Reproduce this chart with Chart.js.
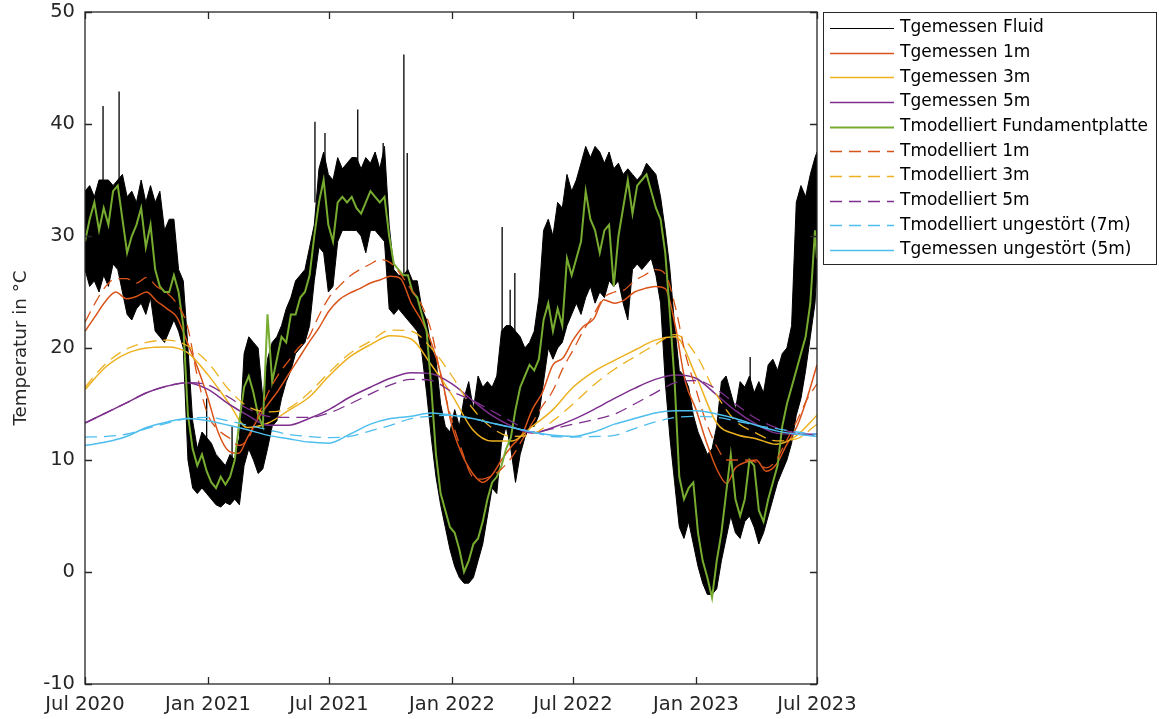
<!DOCTYPE html>
<html lang="de">
<head>
    <meta charset="UTF-8">
    <title>Temperaturverlauf</title>
    <script src="https://cdn.jsdelivr.net/npm/chart.js"></script>
    <style>
        body {
            margin: 0;
            background: #fff;
        }
        .wrap {
            position: relative;
            width: 1159px;
            height: 719px;
        }
    </style>
</head>
<body>
    <div class="wrap"><canvas id="chart"></canvas></div>

    <script>
        // x positions are days since 1 Jul 2020
        const tickDays = [0, 184, 365, 549, 730, 914, 1095];
        const tickLabels = ['Jul 2020', 'Jan 2021', 'Jul 2021', 'Jan 2022', 'Jul 2022', 'Jan 2023', 'Jul 2023'];

        const monthDays = [0, 31, 62, 92, 123, 153, 184, 215, 243, 274, 304, 335, 365, 396, 427, 457, 488, 518,
            549, 580, 608, 639, 669, 700, 730, 761, 792, 822, 853, 883, 914, 945, 973, 1004, 1034, 1065, 1095];
        const halfMonthDays = [0, 15, 31, 46, 62, 77, 92, 107, 123, 138, 153, 168, 184, 199, 215, 230, 243, 258,
            274, 289, 304, 319, 335, 350, 365, 380, 396, 411, 427, 442, 457, 472, 488, 503, 518, 533, 549, 564,
            580, 595, 608, 623, 639, 654, 669, 684, 700, 715, 730, 745, 761, 776, 792, 807, 822, 837, 853, 868,
            883, 898, 914, 929, 945, 960, 973, 988, 1004, 1019, 1034, 1049, 1065, 1080, 1095];
        const weekDays = Array.from({ length: 158 }, (_, i) => Math.min(i * 7, 1095));

        // fluid: upper and lower edge of the daily scatter, one value per week
        const fluidHi = [
            34.0, 34.5, 33.5, 35.0, 35.0, 35.0, 34.5, 35.0, 35.5, 33.5,
            34.0, 33.0, 35.0, 33.0, 34.5, 33.0, 34.0, 30.5, 31.5, 31.5,
            27.0, 26.0, 20.0, 13.5, 11.0, 12.5, 12.0, 11.5, 10.5, 10.0,
            9.5, 10.5, 10.0, 12.0, 19.5, 21.0, 20.5, 20.0, 15.5, 19.0,
            20.5, 21.0, 22.0, 23.5, 24.5, 26.0, 26.5, 27.0, 29.0, 31.0,
            36.0, 37.5, 35.5, 35.0, 37.0, 36.0, 36.5, 37.0, 37.0, 36.0,
            37.0, 36.5, 37.5, 36.0, 38.0, 31.0, 27.0, 26.5, 26.5, 27.0,
            26.0, 26.0, 23.5, 22.5, 20.0, 19.0, 15.0, 13.0, 12.5, 14.5,
            13.0, 15.5, 17.0, 14.5, 17.5, 16.5, 17.0, 16.5, 17.5, 21.5,
            22.0, 22.0, 21.5, 21.0, 20.0, 20.5, 21.5, 24.5, 30.5, 31.5,
            30.0, 33.0, 32.5, 35.5, 34.0, 35.0, 36.5, 38.0, 37.0, 38.0,
            37.5, 36.5, 37.5, 36.0, 36.5, 35.5, 36.0, 35.5, 35.0, 35.5,
            36.5, 36.0, 35.5, 33.5, 30.5, 27.0, 22.0, 18.0, 17.5, 16.5,
            14.0, 12.5, 11.5, 10.5, 11.0, 13.0, 17.0, 17.5, 16.0, 14.5,
            17.0, 16.5, 17.5, 16.0, 17.0, 16.0, 18.5, 19.0, 18.0, 19.5,
            20.0, 22.0, 33.0, 34.5, 33.5, 35.5, 37.0, 37.5
        ];
        const fluidLo = [
            27.0, 25.5, 26.0, 25.0, 26.5, 25.5, 27.5, 27.0, 25.0, 23.0,
            22.5, 23.5, 24.0, 23.0, 24.5, 21.5, 21.0, 20.5, 21.5, 22.5,
            21.5, 20.0, 10.0, 7.5, 7.0, 7.5, 7.0, 6.5, 6.0, 5.8,
            6.2, 6.0, 6.5, 6.0, 9.5, 11.0, 10.0, 8.8, 9.2, 11.0,
            13.0, 13.5, 15.5, 17.0, 18.0, 19.5, 20.0, 20.5, 22.0, 26.0,
            29.0, 28.5, 25.0, 25.5, 29.5, 30.5, 30.5, 30.5, 30.5, 30.0,
            28.5, 30.5, 30.5, 30.0, 29.5, 23.5, 23.0, 23.5, 23.0, 22.5,
            22.0, 21.5, 19.5, 16.0, 12.0, 8.5, 6.0, 4.0, 2.0, 0.5,
            -0.5, -1.0, -1.0, -0.5, 1.0, 2.5, 5.0, 7.5, 7.0, 11.5,
            13.0, 11.0, 8.0, 10.5, 12.0, 13.0, 13.0, 14.0, 17.0, 20.0,
            19.0, 20.0, 20.5, 22.0, 23.0, 24.0, 23.0, 24.5, 25.5, 24.0,
            25.0, 24.5, 26.0, 25.5, 26.0, 24.0, 22.5, 27.0, 27.5, 27.0,
            27.5, 28.0, 26.5, 24.0, 17.0, 12.0, 8.0, 4.0, 3.0, 4.5,
            2.5, 0.5, -1.0, -2.0, -2.0, -1.5, 1.0, 3.0, 5.0, 3.5,
            3.0, 4.5, 5.0, 4.0, 2.5, 3.5, 5.0, 6.5, 8.0, 9.0,
            10.0, 11.5, 14.0, 15.5, 18.0, 21.0, 24.0, 27.0
        ];
        // single-day peaks of the fluid temperature
        const spikeDays = [27, 51, 182, 220, 344, 359, 408, 446, 477, 482, 624, 636, 643, 995];
        const spikeBases = [34.0, 35.0, 11.0, 9.5, 33.0, 35.0, 36.0, 36.0, 25.0, 25.0, 20.0, 20.0, 20.0, 16.0];
        const spikeTops = [41.6, 42.9, 15.5, 13.0, 40.2, 39.2, 41.3, 38.3, 46.2, 37.4, 30.8, 25.2, 26.7, 19.2];

        const modFundament = [
            29.5, 31.5, 33.0, 30.5, 32.5, 31.0, 34.0, 34.5, 31.5, 28.5,
            30.0, 31.0, 32.5, 29.0, 31.0, 27.0, 25.5, 25.0, 25.0, 26.5,
            25.0, 22.0, 14.0, 11.0, 9.5, 10.5, 9.0, 8.0, 7.5, 8.5,
            7.8, 8.5, 10.0, 13.5, 16.5, 17.5, 16.0, 14.0, 13.0, 23.0,
            17.0, 19.0, 21.0, 20.5, 23.0, 23.0, 24.5, 25.0, 26.5, 30.0,
            33.0, 35.0, 31.0, 29.5, 33.0, 33.5, 33.0, 33.5, 32.5, 32.0,
            33.0, 34.0, 33.5, 33.0, 33.5, 30.0, 27.5, 27.0, 26.5, 26.5,
            25.0, 24.5, 23.0, 21.5, 16.5, 10.5, 7.0, 5.5, 4.0, 3.5,
            2.0, 0.0, 1.0, 2.5, 3.0, 4.5, 6.5, 8.0, 8.5, 9.5,
            11.0, 12.0, 14.5, 16.5, 17.5, 18.5, 18.0, 19.0, 22.5, 24.0,
            21.5, 23.5, 22.0, 28.0, 26.5, 28.0, 29.5, 34.0, 31.5, 30.5,
            28.5, 30.5, 31.0, 25.5, 30.0, 32.5, 35.0, 32.0, 34.5, 35.0,
            35.5, 34.0, 32.5, 31.5, 28.5, 23.0, 17.0, 8.5, 6.5, 7.5,
            8.0, 3.5, 1.0, -0.5, -2.3, 1.0, 3.5, 7.0, 10.5, 6.5,
            5.0, 6.5, 10.0, 9.5, 5.5, 4.5, 6.5, 8.0, 9.5, 13.0,
            15.0, 16.5, 18.0, 19.5, 21.0, 24.0, 30.5, 28.0
        ];

        // half-month values
        const mess1m = [21.5, 22.8, 24.2, 25.0, 24.4, 24.6, 25.0, 24.2, 23.5, 22.7, 20.5, 18.3,
            15.5, 12.5, 10.8, 10.6, 12.0, 13.6, 15.0, 16.2, 17.6, 19.0, 20.5, 21.8,
            23.3, 24.3, 24.9, 25.3, 25.8, 26.1, 26.4, 26.2, 24.0, 22.5, 20.5, 17.5,
            13.0, 10.5, 8.8, 8.0, 8.6, 10.0, 11.3, 12.3, 14.5, 16.0, 18.5, 19.1,
            20.7, 21.9, 22.6, 24.3, 24.0, 24.3, 25.0, 25.3, 25.5, 25.3, 22.0, 17.0,
            14.5, 11.7, 9.2, 7.9, 9.3, 9.8, 10.0, 9.0, 9.6, 11.3, 13.0, 15.5, 18.5];
        const mod1m = [22.3, 24.0, 25.5, 26.2, 26.2, 25.8, 26.3, 25.5, 24.9, 23.9, 22.0, 17.5,
            14.0, 12.7, 12.0, 11.3, 11.8, 13.8, 16.0, 17.6, 18.8, 20.0, 21.0, 22.9,
            24.5, 25.5, 26.4, 27.0, 27.5, 27.9, 27.6, 26.6, 25.2, 23.9, 21.5, 17.3,
            13.5, 10.8, 8.5, 8.3, 8.6, 9.2, 10.3, 11.8, 13.3, 14.8, 16.2, 18.2,
            19.8, 21.5, 23.0, 24.5, 25.0, 25.2, 26.0, 26.5, 27.0, 26.6, 23.7, 19.5,
            16.3, 13.4, 11.2, 10.0, 10.0, 10.0, 9.8, 9.3, 10.0, 11.7, 13.5, 15.4, 16.8];

        // monthly values
        const mess3m = [16.3, 18.3, 19.5, 20.0, 20.1, 19.6, 17.6, 15.1, 12.9, 13.3, 14.4, 15.6,
            17.5, 19.2, 20.3, 21.1, 20.8, 18.5, 15.8, 12.7, 11.7, 11.7, 13.0, 14.5,
            16.5, 17.9, 18.9, 19.8, 20.7, 21.0, 17.5, 13.3, 12.3, 11.9, 11.4, 12.2, 14.0];
        const mod3m = [16.5, 18.6, 19.9, 20.5, 20.7, 20.2, 18.7, 16.3, 14.8, 14.3, 14.6, 16.0,
            17.8, 19.5, 20.6, 21.6, 21.5, 20.0, 17.5, 14.6, 12.9, 12.1, 12.3, 13.5,
            15.0, 16.7, 18.1, 19.2, 20.3, 21.2, 19.4, 15.8, 13.5, 12.4, 11.7, 11.9, 13.2];
        const mess5m = [13.3, 14.2, 15.1, 16.0, 16.6, 16.9, 16.3, 15.0, 14.0, 13.1, 13.1, 13.7,
            14.5, 15.6, 16.5, 17.3, 17.8, 17.7, 16.8, 15.3, 14.0, 13.0, 12.4, 12.9,
            13.6, 14.5, 15.5, 16.4, 17.2, 17.6, 17.3, 15.8, 14.4, 13.2, 12.4, 12.3, 12.3];
        const mod5m = [13.3, 14.2, 15.1, 16.0, 16.6, 16.9, 16.7, 15.6, 14.6, 13.9, 13.8, 13.8,
            14.2, 15.0, 15.9, 16.7, 17.2, 17.1, 16.1, 15.3, 14.4, 13.4, 12.5, 12.8,
            13.2, 13.6, 14.1, 15.0, 16.0, 16.9, 17.1, 16.3, 15.0, 13.7, 12.9, 12.4, 12.2];
        const mod7mUngestoert = [12.05, 12.1, 12.3, 12.8, 13.3, 13.7, 13.8, 13.5, 13.1, 12.7, 12.3, 12.1,
            12.0, 12.1, 12.6, 13.1, 13.7, 13.9, 14.0, 13.7, 13.3, 12.9, 12.5, 12.1,
            12.05, 12.1, 12.2, 12.8, 13.4, 13.8, 13.9, 13.8, 13.5, 13.1, 12.8, 12.5, 12.3];
        const mess5mUngestoert = [11.3, 11.6, 12.1, 12.9, 13.4, 13.7, 13.5, 13.1, 12.7, 12.2, 11.9, 11.6,
            11.5, 12.3, 13.2, 13.7, 13.9, 14.2, 14.0, 13.7, 13.3, 12.9, 12.5, 12.2,
            12.1, 12.5, 13.2, 13.7, 14.2, 14.4, 14.4, 14.1, 13.7, 13.1, 12.6, 12.3, 12.1];

        const toPts = (days, vals) => days.map((d, i) => ({ x: d, y: vals[i] }));

        const spikePts = [];
        spikeDays.forEach((d, i) => {
            spikePts.push({ x: d, y: spikeBases[i] }, { x: d, y: spikeTops[i] }, { x: d, y: null });
        });

        const DASH = [12, 7];

        function series(label, days, vals, color, width, dash, order, smooth) {
            return {
                label: label,
                data: toPts(days, vals),
                borderColor: color,
                borderWidth: width,
                borderDash: dash || [],
                pointRadius: 0,
                fill: false,
                order: order,
                tension: 0,
                cubicInterpolationMode: smooth ? 'monotone' : 'default'
            };
        }

        const datasets = [
            series('Tgemessen Fluid', weekDays, fluidHi, '#000000', 1, null, 30, false),
            Object.assign(series('', weekDays, fluidLo, '#000000', 1, null, 29, false),
                { fill: '-1', backgroundColor: '#000000' }),
            { label: '', data: spikePts, borderColor: '#000000', borderWidth: 1.3, pointRadius: 0, order: 28, spanGaps: false },
            series('Tgemessen 1m', halfMonthDays, mess1m, '#D95319', 1.5, null, 20, true),
            series('Tgemessen 3m', monthDays, mess3m, '#EDB120', 1.5, null, 19, true),
            series('Tgemessen 5m', monthDays, mess5m, '#7E2F8E', 1.5, null, 18, true),
            series('Tmodelliert Fundamentplatte', weekDays, modFundament, '#77AC30', 2, null, 17, false),
            series('Tmodelliert 1m', halfMonthDays, mod1m, '#D95319', 1.3, DASH, 16, true),
            series('Tmodelliert 3m', monthDays, mod3m, '#EDB120', 1.3, DASH, 15, true),
            series('Tmodelliert 5m', monthDays, mod5m, '#7E2F8E', 1.3, DASH, 14, true),
            series('Tmodelliert ungestört (7m)', monthDays, mod7mUngestoert, '#4DBEEE', 1.3, DASH, 13, true),
            series('Tgemessen ungestört (5m)', monthDays, mess5mUngestoert, '#4DBEEE', 1.5, null, 12, true)
        ];

        // MATLAB style box with inward ticks
        const axesBox = {
            id: 'axesBox',
            afterDatasetsDraw(chart) {
                const { ctx, chartArea: a, scales } = chart;
                ctx.save();
                ctx.strokeStyle = '#262626';
                ctx.lineWidth = 1.3;
                ctx.setLineDash([]);
                ctx.strokeRect(a.left, a.top, a.right - a.left, a.bottom - a.top);
                const len = 7;
                ctx.beginPath();
                scales.y.ticks.forEach(t => {
                    const py = Math.round(scales.y.getPixelForValue(t.value)) + 0.5;
                    ctx.moveTo(a.left, py); ctx.lineTo(a.left + len, py);
                    ctx.moveTo(a.right, py); ctx.lineTo(a.right - len, py);
                });
                scales.x.ticks.forEach(t => {
                    const px = Math.round(scales.x.getPixelForValue(t.value)) + 0.5;
                    ctx.moveTo(px, a.bottom); ctx.lineTo(px, a.bottom - len);
                    ctx.moveTo(px, a.top); ctx.lineTo(px, a.top + len);
                });
                ctx.stroke();
                ctx.restore();
            }
        };

        const boxLegend = {
            id: 'boxLegend',
            afterDraw(chart) {
                const ctx = chart.ctx;
                const items = chart.data.datasets.filter(ds => ds.label);
                const x0 = 823.5, y0 = 12.5, w = 333, h = 252;
                ctx.save();
                ctx.fillStyle = '#ffffff';
                ctx.fillRect(x0, y0, w, h);
                ctx.strokeStyle = '#262626';
                ctx.lineWidth = 1;
                ctx.setLineDash([]);
                ctx.strokeRect(x0, y0, w, h);
                ctx.font = '17px "DejaVu Sans"';
                ctx.textBaseline = 'middle';
                ctx.fillStyle = '#000000';
                items.forEach((ds, i) => {
                    const y = 28 + i * 24.67;
                    ctx.beginPath();
                    ctx.strokeStyle = ds.borderColor;
                    ctx.lineWidth = ds.borderWidth;
                    ctx.setLineDash(ds.borderDash || []);
                    ctx.moveTo(830, Math.round(y) + 0.5);
                    ctx.lineTo(894, Math.round(y) + 0.5);
                    ctx.stroke();
                    ctx.fillText(ds.label, 900, y);
                });
                ctx.restore();
            }
        };

        Chart.defaults.font.family = '"DejaVu Sans"';
        Chart.defaults.color = '#262626';

        new Chart(document.getElementById('chart').getContext('2d'), {
            type: 'line',
            data: { datasets: datasets },
            options: {
                responsive: true,
                maintainAspectRatio: false,
                animation: false,
                events: [],
                layout: { padding: { top: 12, right: 342, bottom: 0, left: 0 } },
                plugins: {
                    legend: { display: false },
                    tooltip: { enabled: false }
                },
                scales: {
                    x: {
                        type: 'linear',
                        min: 0,
                        max: 1095,
                        grid: { display: false, drawTicks: false },
                        border: { display: false },
                        afterBuildTicks: scale => {
                            scale.ticks = tickDays.map(v => ({ value: v }));
                        },
                        afterFit: scale => {
                            scale.height = 35;
                            scale.paddingLeft = 0;
                            scale.paddingRight = 0;
                        },
                        ticks: {
                            autoSkip: false,
                            maxRotation: 0,
                            padding: 9,
                            font: { size: 19.5 },
                            color: '#262626',
                            callback: (value, index) => tickLabels[index]
                        }
                    },
                    y: {
                        min: -10,
                        max: 50,
                        grid: { display: false, drawTicks: false },
                        border: { display: false },
                        afterFit: scale => {
                            scale.width = 85;
                            scale.paddingTop = 0;
                            scale.paddingBottom = 0;
                        },
                        ticks: {
                            stepSize: 10,
                            padding: 10,
                            font: { size: 19.5 },
                            color: '#262626'
                        },
                        title: {
                            display: true,
                            text: 'Temperatur in °C',
                            font: { size: 18.3 },
                            color: '#262626',
                            padding: { top: 10, bottom: 0 }
                        }
                    }
                }
            },
            plugins: [axesBox, boxLegend]
        });
    </script>
</body>
</html>
